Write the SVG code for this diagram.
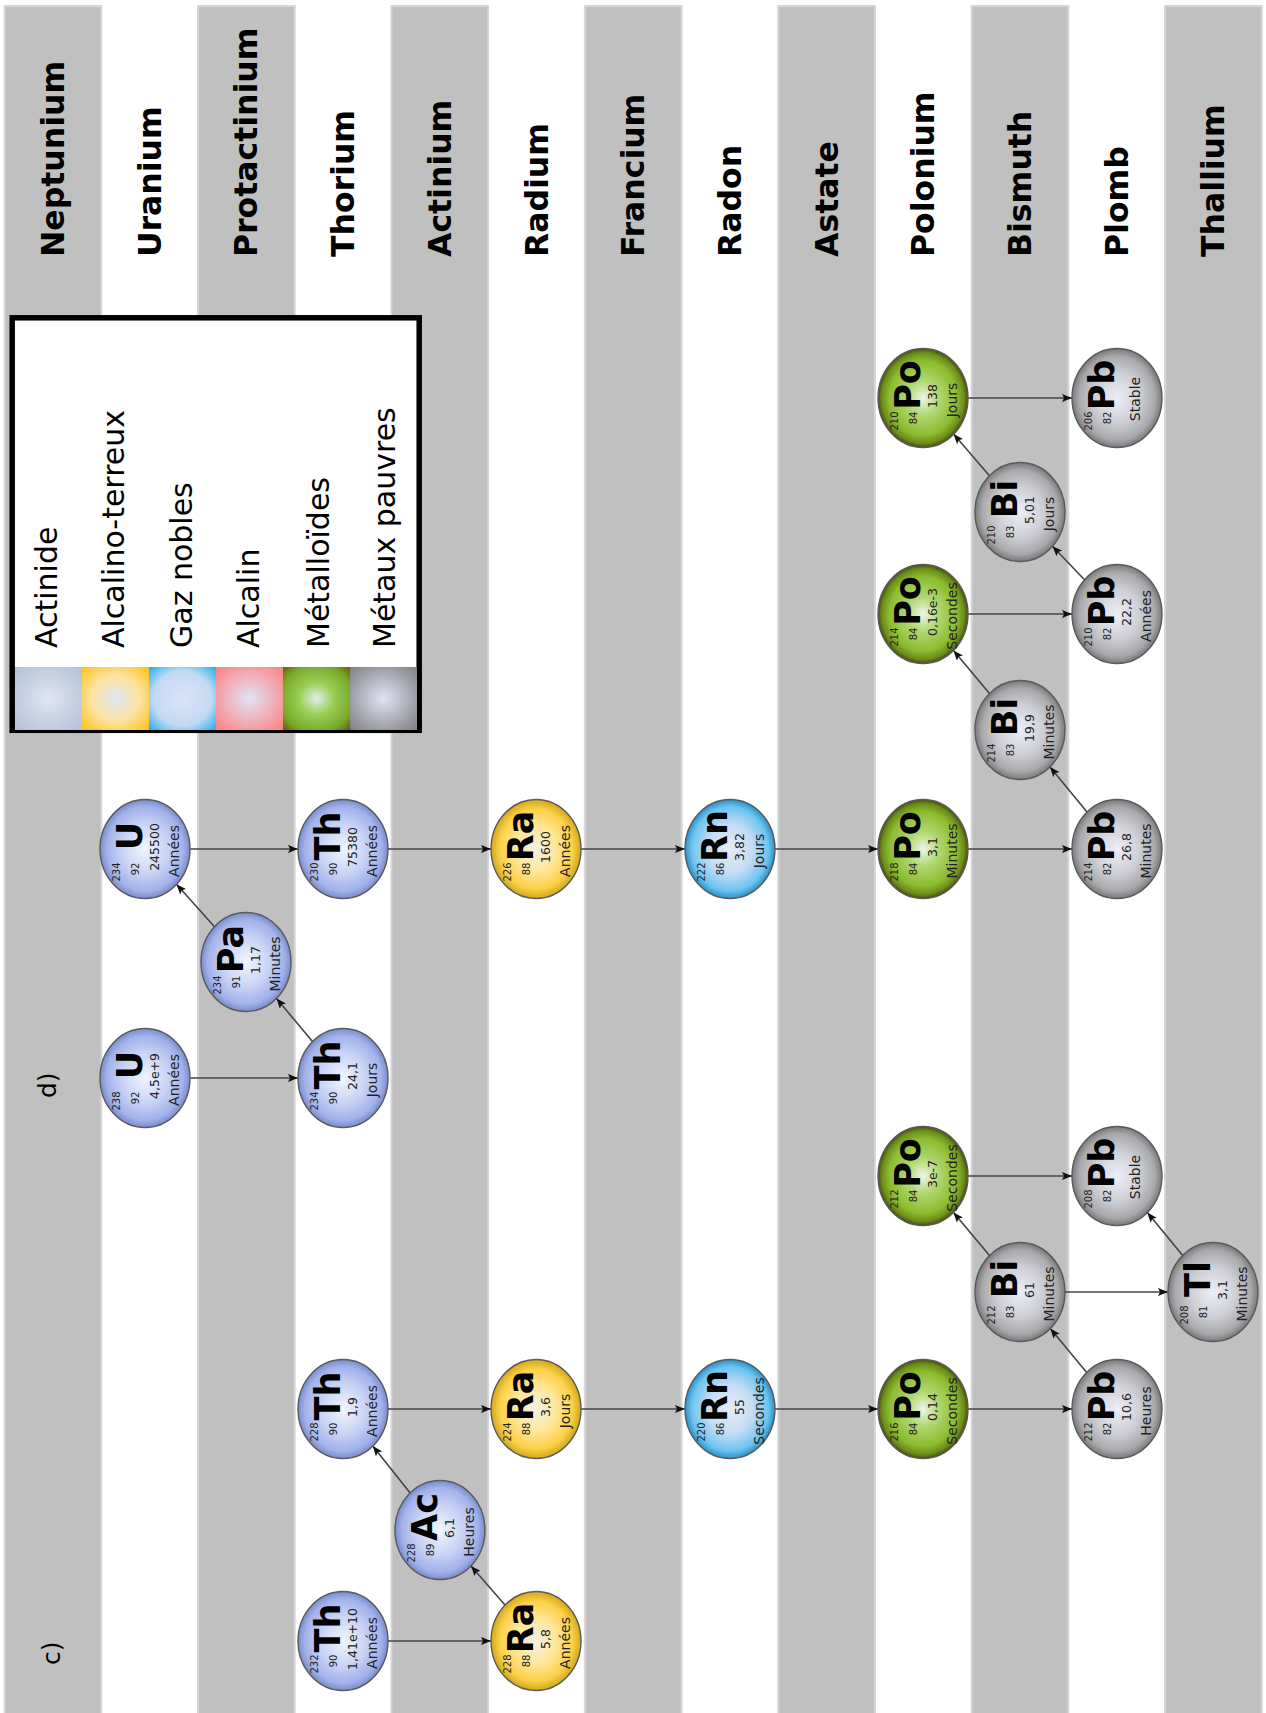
<svg xmlns="http://www.w3.org/2000/svg" width="1266" height="1713" viewBox="0 0 1266 1713">
<defs>
<style>
.st{fill:#c0c0c0;stroke:#d6d6d6;stroke-width:2}
.hd{font-family:"DejaVu Sans",sans-serif;font-weight:bold;font-size:31.5px;fill:#000;dominant-baseline:central}
.lg{font-family:"DejaVu Sans",sans-serif;font-size:30px;fill:#000}
.lb{font-family:"DejaVu Sans",sans-serif;font-size:25px;fill:#000}
.nd{stroke:#5a5a5a;stroke-width:1.4}
.sym{font-family:"DejaVu Sans",sans-serif;font-weight:bold;font-size:35px;text-anchor:middle;fill:#000}
.ms{font-family:"DejaVu Sans",sans-serif;font-size:10px;text-anchor:middle;fill:#222}
.hl{font-family:"DejaVu Sans",sans-serif;font-size:12.5px;text-anchor:middle;fill:#222}
.un{font-family:"DejaVu Sans",sans-serif;font-size:14px;text-anchor:middle;fill:#222}
.cn line{stroke:#444;stroke-width:1.6;marker-end:url(#ah)}
</style>
<marker id="ah" markerWidth="10" markerHeight="8" refX="10" refY="4" orient="auto" markerUnits="userSpaceOnUse"><path d="M0,0 L10,4 L0,8 L2,4 z" fill="#111"/></marker>
<radialGradient id="gA"><stop offset="0" stop-color="#f2f5fd"/><stop offset="0.5" stop-color="#c9d4f5"/><stop offset="0.85" stop-color="#a2b2ea"/><stop offset="1" stop-color="#7a8ccc"/></radialGradient>
<radialGradient id="gY"><stop offset="0" stop-color="#f5f2e6"/><stop offset="0.45" stop-color="#fde79a"/><stop offset="0.8" stop-color="#fdd24a"/><stop offset="1" stop-color="#d4a818"/></radialGradient>
<radialGradient id="gC"><stop offset="0" stop-color="#e6ecf7"/><stop offset="0.5" stop-color="#c4dcf4"/><stop offset="0.85" stop-color="#6cc4f0"/><stop offset="1" stop-color="#2a90c8"/></radialGradient>
<radialGradient id="gG"><stop offset="0" stop-color="#eef5e8"/><stop offset="0.35" stop-color="#b0d870"/><stop offset="0.75" stop-color="#8cbc30"/><stop offset="0.92" stop-color="#6a8c18"/><stop offset="1" stop-color="#4a4a10"/></radialGradient>
<radialGradient id="gP"><stop offset="0" stop-color="#eceef8"/><stop offset="0.5" stop-color="#cfd0d6"/><stop offset="0.85" stop-color="#a8a8ac"/><stop offset="1" stop-color="#7a7a7a"/></radialGradient>
<radialGradient id="lA" r="0.72"><stop offset="0" stop-color="#dfe5f3"/><stop offset="1" stop-color="#b2bfd6"/></radialGradient>
<radialGradient id="lY" r="0.72"><stop offset="0" stop-color="#dfe5f4"/><stop offset="0.5" stop-color="#fbe3a0"/><stop offset="1" stop-color="#ffbf10"/></radialGradient>
<radialGradient id="lC" r="0.72"><stop offset="0" stop-color="#d8e3f5"/><stop offset="0.6" stop-color="#c3daf3"/><stop offset="1" stop-color="#14aaf0"/></radialGradient>
<radialGradient id="lR" r="0.72"><stop offset="0" stop-color="#dfe4f6"/><stop offset="1" stop-color="#ff7d7d"/></radialGradient>
<radialGradient id="lG" r="0.72"><stop offset="0" stop-color="#dfeef0"/><stop offset="0.35" stop-color="#9ad058"/><stop offset="0.75" stop-color="#78a828"/><stop offset="1" stop-color="#6a5008"/></radialGradient>
<radialGradient id="lP" r="0.72"><stop offset="0" stop-color="#dfe3f6"/><stop offset="1" stop-color="#7d7d7d"/></radialGradient>
</defs>
<rect width="1266" height="1713" fill="#fff"/>
<g id="stripes">
<rect class="st" x="4.65" y="6" width="96.7" height="1720"/>
<rect class="st" x="198.05" y="6" width="96.7" height="1720"/>
<rect class="st" x="391.45" y="6" width="96.7" height="1720"/>
<rect class="st" x="584.85" y="6" width="96.7" height="1720"/>
<rect class="st" x="778.25" y="6" width="96.7" height="1720"/>
<rect class="st" x="971.65" y="6" width="96.7" height="1720"/>
<rect class="st" x="1165.05" y="6" width="96.7" height="1720"/>
</g>
<g id="headers">
<text class="hd" transform="translate(53,257) rotate(-90)">Neptunium</text>
<text class="hd" transform="translate(149.7,257) rotate(-90)">Uranium</text>
<text class="hd" transform="translate(246.4,257) rotate(-90)">Protactinium</text>
<text class="hd" transform="translate(343.1,257) rotate(-90)">Thorium</text>
<text class="hd" transform="translate(439.8,257) rotate(-90)">Actinium</text>
<text class="hd" transform="translate(536.5,257) rotate(-90)">Radium</text>
<text class="hd" transform="translate(633.2,257) rotate(-90)">Francium</text>
<text class="hd" transform="translate(729.9,257) rotate(-90)">Radon</text>
<text class="hd" transform="translate(826.6,257) rotate(-90)">Astate</text>
<text class="hd" transform="translate(923.3,257) rotate(-90)">Polonium</text>
<text class="hd" transform="translate(1020,257) rotate(-90)">Bismuth</text>
<text class="hd" transform="translate(1116.7,257) rotate(-90)">Plomb</text>
<text class="hd" transform="translate(1213.4,257) rotate(-90)">Thallium</text>
</g>
<g id="legend">
<rect x="12.2" y="317.8" width="407" height="412.5" fill="#fff" stroke="#000" stroke-width="5.5"/>
<rect x="15" y="667" width="67" height="63" fill="url(#lA)"/>
<rect x="82" y="667" width="67" height="63" fill="url(#lY)"/>
<rect x="149" y="667" width="67" height="63" fill="url(#lC)"/>
<rect x="216" y="667" width="67" height="63" fill="url(#lR)"/>
<rect x="283" y="667" width="67" height="63" fill="url(#lG)"/>
<rect x="350" y="667" width="67" height="63" fill="url(#lP)"/>
<text class="lg" transform="translate(57,648) rotate(-90)">Actinide</text>
<text class="lg" transform="translate(124,648) rotate(-90)">Alcalino-terreux</text>
<text class="lg" transform="translate(192,648) rotate(-90)">Gaz nobles</text>
<text class="lg" transform="translate(259,648) rotate(-90)">Alcalin</text>
<text class="lg" transform="translate(329,648) rotate(-90)">Métalloïdes</text>
<text class="lg" transform="translate(395,648) rotate(-90)">Métaux pauvres</text>
</g>
<g id="labels">
<text class="lb" transform="translate(56,1098) rotate(-90)">d)</text>
<text class="lb" transform="translate(60,1665) rotate(-90)">c)</text>
</g>
<g id="connectors" class="cn">
<line x1="190" y1="1078" x2="298" y2="1078"/>
<line x1="312.5" y1="1041.6" x2="276.5" y2="998.4"/>
<line x1="214.5" y1="926.7" x2="176.5" y2="884.3"/>
<line x1="190" y1="849" x2="298" y2="849"/>
<line x1="388" y1="849" x2="491" y2="849"/>
<line x1="581" y1="849" x2="685" y2="849"/>
<line x1="775" y1="849" x2="878" y2="849"/>
<line x1="968" y1="849" x2="1072" y2="849"/>
<line x1="1087" y1="812.1" x2="1050" y2="766.9"/>
<line x1="989.5" y1="693.6" x2="953.5" y2="650.4"/>
<line x1="968" y1="614" x2="1072" y2="614"/>
<line x1="1084.5" y1="579.8" x2="1052.5" y2="546.2"/>
<line x1="989.4" y1="475.7" x2="953.6" y2="434"/>
<line x1="968" y1="398" x2="1072" y2="398"/>
<line x1="388" y1="1641" x2="491" y2="1641"/>
<line x1="505" y1="1605.1" x2="471" y2="1565.9"/>
<line x1="410.2" y1="1492.9" x2="372.8" y2="1446.1"/>
<line x1="388" y1="1409" x2="491" y2="1409"/>
<line x1="581" y1="1409" x2="685" y2="1409"/>
<line x1="775" y1="1409" x2="878" y2="1409"/>
<line x1="968" y1="1409" x2="1072" y2="1409"/>
<line x1="1086.7" y1="1372.4" x2="1050.3" y2="1328.6"/>
<line x1="989.5" y1="1255.6" x2="953.5" y2="1212.4"/>
<line x1="1065" y1="1292" x2="1168" y2="1292"/>
<line x1="1182.7" y1="1255.4" x2="1147.3" y2="1212.6"/>
<line x1="968" y1="1176" x2="1072" y2="1176"/>
</g>
<g id="n-U238" transform="translate(145,1078) rotate(-90)"><ellipse class="nd" rx="49.5" ry="45" fill="url(#gA)"/><text class="sym" x="13" y="-3">U</text><text class="ms" x="-23" y="-25">238</text><text class="ms" x="-20" y="-6">92</text><text class="hl" x="2" y="14">4,5e+9</text><text class="un" x="-2" y="34">Années</text></g>
<g id="n-Th234" transform="translate(343,1078) rotate(-90)"><ellipse class="nd" rx="49.5" ry="45" fill="url(#gA)"/><text class="sym" x="13" y="-3">Th</text><text class="ms" x="-23" y="-25">234</text><text class="ms" x="-20" y="-6">90</text><text class="hl" x="2" y="14">24,1</text><text class="un" x="-2" y="34">Jours</text></g>
<g id="n-Pa234" transform="translate(246,962) rotate(-90)"><ellipse class="nd" rx="49.5" ry="45" fill="url(#gA)"/><text class="sym" x="13" y="-3">Pa</text><text class="ms" x="-23" y="-25">234</text><text class="ms" x="-20" y="-6">91</text><text class="hl" x="2" y="14">1,17</text><text class="un" x="-2" y="34">Minutes</text></g>
<g id="n-U234" transform="translate(145,849) rotate(-90)"><ellipse class="nd" rx="49.5" ry="45" fill="url(#gA)"/><text class="sym" x="13" y="-3">U</text><text class="ms" x="-23" y="-25">234</text><text class="ms" x="-20" y="-6">92</text><text class="hl" x="2" y="14">245500</text><text class="un" x="-2" y="34">Années</text></g>
<g id="n-Th230" transform="translate(343,849) rotate(-90)"><ellipse class="nd" rx="49.5" ry="45" fill="url(#gA)"/><text class="sym" x="13" y="-3">Th</text><text class="ms" x="-23" y="-25">230</text><text class="ms" x="-20" y="-6">90</text><text class="hl" x="2" y="14">75380</text><text class="un" x="-2" y="34">Années</text></g>
<g id="n-Ra226" transform="translate(536,849) rotate(-90)"><ellipse class="nd" rx="49.5" ry="45" fill="url(#gY)"/><text class="sym" x="13" y="-3">Ra</text><text class="ms" x="-23" y="-25">226</text><text class="ms" x="-20" y="-6">88</text><text class="hl" x="2" y="14">1600</text><text class="un" x="-2" y="34">Années</text></g>
<g id="n-Rn222" transform="translate(730,849) rotate(-90)"><ellipse class="nd" rx="49.5" ry="45" fill="url(#gC)"/><text class="sym" x="13" y="-3">Rn</text><text class="ms" x="-23" y="-25">222</text><text class="ms" x="-20" y="-6">86</text><text class="hl" x="2" y="14">3,82</text><text class="un" x="-2" y="34">Jours</text></g>
<g id="n-Po218" transform="translate(923,849) rotate(-90)"><ellipse class="nd" rx="49.5" ry="45" fill="url(#gG)"/><text class="sym" x="13" y="-3">Po</text><text class="ms" x="-23" y="-25">218</text><text class="ms" x="-20" y="-6">84</text><text class="hl" x="2" y="14">3,1</text><text class="un" x="-2" y="34">Minutes</text></g>
<g id="n-Pb214" transform="translate(1117,849) rotate(-90)"><ellipse class="nd" rx="49.5" ry="45" fill="url(#gP)"/><text class="sym" x="13" y="-3">Pb</text><text class="ms" x="-23" y="-25">214</text><text class="ms" x="-20" y="-6">82</text><text class="hl" x="2" y="14">26,8</text><text class="un" x="-2" y="34">Minutes</text></g>
<g id="n-Bi214" transform="translate(1020,730) rotate(-90)"><ellipse class="nd" rx="49.5" ry="45" fill="url(#gP)"/><text class="sym" x="13" y="-3">Bi</text><text class="ms" x="-23" y="-25">214</text><text class="ms" x="-20" y="-6">83</text><text class="hl" x="2" y="14">19,9</text><text class="un" x="-2" y="34">Minutes</text></g>
<g id="n-Po214" transform="translate(923,614) rotate(-90)"><ellipse class="nd" rx="49.5" ry="45" fill="url(#gG)"/><text class="sym" x="13" y="-3">Po</text><text class="ms" x="-23" y="-25">214</text><text class="ms" x="-20" y="-6">84</text><text class="hl" x="2" y="14">0,16e-3</text><text class="un" x="-2" y="34">Secondes</text></g>
<g id="n-Pb210" transform="translate(1117,614) rotate(-90)"><ellipse class="nd" rx="49.5" ry="45" fill="url(#gP)"/><text class="sym" x="13" y="-3">Pb</text><text class="ms" x="-23" y="-25">210</text><text class="ms" x="-20" y="-6">82</text><text class="hl" x="2" y="14">22,2</text><text class="un" x="-2" y="34">Années</text></g>
<g id="n-Bi210" transform="translate(1020,512) rotate(-90)"><ellipse class="nd" rx="49.5" ry="45" fill="url(#gP)"/><text class="sym" x="13" y="-3">Bi</text><text class="ms" x="-23" y="-25">210</text><text class="ms" x="-20" y="-6">83</text><text class="hl" x="2" y="14">5,01</text><text class="un" x="-2" y="34">Jours</text></g>
<g id="n-Po210" transform="translate(923,398) rotate(-90)"><ellipse class="nd" rx="49.5" ry="45" fill="url(#gG)"/><text class="sym" x="13" y="-3">Po</text><text class="ms" x="-23" y="-25">210</text><text class="ms" x="-20" y="-6">84</text><text class="hl" x="2" y="14">138</text><text class="un" x="-2" y="34">Jours</text></g>
<g id="n-Pb206" transform="translate(1117,398) rotate(-90)"><ellipse class="nd" rx="49.5" ry="45" fill="url(#gP)"/><text class="sym" x="13" y="-3">Pb</text><text class="ms" x="-23" y="-25">206</text><text class="ms" x="-20" y="-6">82</text><text class="un" x="-1" y="23">Stable</text></g>
<g id="n-Th232" transform="translate(343,1641) rotate(-90)"><ellipse class="nd" rx="49.5" ry="45" fill="url(#gA)"/><text class="sym" x="13" y="-3">Th</text><text class="ms" x="-23" y="-25">232</text><text class="ms" x="-20" y="-6">90</text><text class="hl" x="2" y="14">1,41e+10</text><text class="un" x="-2" y="34">Années</text></g>
<g id="n-Ra228" transform="translate(536,1641) rotate(-90)"><ellipse class="nd" rx="49.5" ry="45" fill="url(#gY)"/><text class="sym" x="13" y="-3">Ra</text><text class="ms" x="-23" y="-25">228</text><text class="ms" x="-20" y="-6">88</text><text class="hl" x="2" y="14">5,8</text><text class="un" x="-2" y="34">Années</text></g>
<g id="n-Ac228" transform="translate(440,1530) rotate(-90)"><ellipse class="nd" rx="49.5" ry="45" fill="url(#gA)"/><text class="sym" x="13" y="-3">Ac</text><text class="ms" x="-23" y="-25">228</text><text class="ms" x="-20" y="-6">89</text><text class="hl" x="2" y="14">6,1</text><text class="un" x="-2" y="34">Heures</text></g>
<g id="n-Th228" transform="translate(343,1409) rotate(-90)"><ellipse class="nd" rx="49.5" ry="45" fill="url(#gA)"/><text class="sym" x="13" y="-3">Th</text><text class="ms" x="-23" y="-25">228</text><text class="ms" x="-20" y="-6">90</text><text class="hl" x="2" y="14">1,9</text><text class="un" x="-2" y="34">Années</text></g>
<g id="n-Ra224" transform="translate(536,1409) rotate(-90)"><ellipse class="nd" rx="49.5" ry="45" fill="url(#gY)"/><text class="sym" x="13" y="-3">Ra</text><text class="ms" x="-23" y="-25">224</text><text class="ms" x="-20" y="-6">88</text><text class="hl" x="2" y="14">3,6</text><text class="un" x="-2" y="34">Jours</text></g>
<g id="n-Rn220" transform="translate(730,1409) rotate(-90)"><ellipse class="nd" rx="49.5" ry="45" fill="url(#gC)"/><text class="sym" x="13" y="-3">Rn</text><text class="ms" x="-23" y="-25">220</text><text class="ms" x="-20" y="-6">86</text><text class="hl" x="2" y="14">55</text><text class="un" x="-2" y="34">Secondes</text></g>
<g id="n-Po216" transform="translate(923,1409) rotate(-90)"><ellipse class="nd" rx="49.5" ry="45" fill="url(#gG)"/><text class="sym" x="13" y="-3">Po</text><text class="ms" x="-23" y="-25">216</text><text class="ms" x="-20" y="-6">84</text><text class="hl" x="2" y="14">0,14</text><text class="un" x="-2" y="34">Secondes</text></g>
<g id="n-Pb212" transform="translate(1117,1409) rotate(-90)"><ellipse class="nd" rx="49.5" ry="45" fill="url(#gP)"/><text class="sym" x="13" y="-3">Pb</text><text class="ms" x="-23" y="-25">212</text><text class="ms" x="-20" y="-6">82</text><text class="hl" x="2" y="14">10,6</text><text class="un" x="-2" y="34">Heures</text></g>
<g id="n-Bi212" transform="translate(1020,1292) rotate(-90)"><ellipse class="nd" rx="49.5" ry="45" fill="url(#gP)"/><text class="sym" x="13" y="-3">Bi</text><text class="ms" x="-23" y="-25">212</text><text class="ms" x="-20" y="-6">83</text><text class="hl" x="2" y="14">61</text><text class="un" x="-2" y="34">Minutes</text></g>
<g id="n-Po212" transform="translate(923,1176) rotate(-90)"><ellipse class="nd" rx="49.5" ry="45" fill="url(#gG)"/><text class="sym" x="13" y="-3">Po</text><text class="ms" x="-23" y="-25">212</text><text class="ms" x="-20" y="-6">84</text><text class="hl" x="2" y="14">3e-7</text><text class="un" x="-2" y="34">Secondes</text></g>
<g id="n-Tl208" transform="translate(1213,1292) rotate(-90)"><ellipse class="nd" rx="49.5" ry="45" fill="url(#gP)"/><text class="sym" x="13" y="-3">Tl</text><text class="ms" x="-23" y="-25">208</text><text class="ms" x="-20" y="-6">81</text><text class="hl" x="2" y="14">3,1</text><text class="un" x="-2" y="34">Minutes</text></g>
<g id="n-Pb208" transform="translate(1117,1176) rotate(-90)"><ellipse class="nd" rx="49.5" ry="45" fill="url(#gP)"/><text class="sym" x="13" y="-3">Pb</text><text class="ms" x="-23" y="-25">208</text><text class="ms" x="-20" y="-6">82</text><text class="un" x="-1" y="23">Stable</text></g>
</svg>
